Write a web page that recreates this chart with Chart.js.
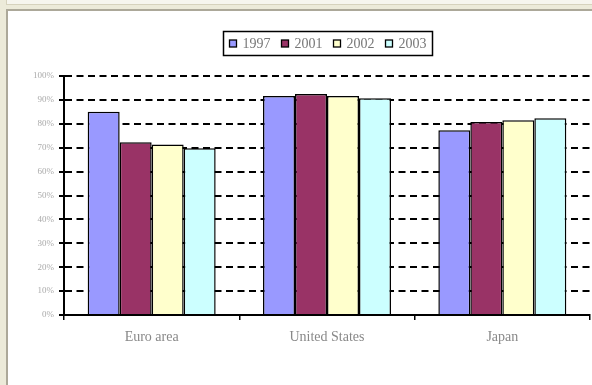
<!DOCTYPE html>
<html>
<head>
<meta charset="utf-8">
<script src="https://cdn.jsdelivr.net/npm/chart.js@4/dist/chart.umd.min.js"></script>
<style>
  html, body { margin: 0; padding: 0; }
  body { width: 592px; height: 385px; overflow: hidden; background: #ecead9; position: relative; }
  #topStrip { position: absolute; left: 6px; top: 0; width: 600px; height: 4px; background: #f6f5ee; border-left: 1px solid #d6d2bd; border-bottom: 1px solid #d6d2bd; }
  #panel { position: absolute; left: 6px; top: 9px; width: 600px; height: 400px; background: #ffffff; border-left: 2px solid #aca899; border-top: 2px solid #aca899; }
  #wrap { position: absolute; left: 0; top: 0; width: 592px; height: 385px; }
</style>
</head>
<body>
<div id="topStrip"></div>
<div id="panel"></div>
<div id="wrap"><canvas id="c" width="592" height="385"></canvas></div>
<script>
const categories = ['Euro area', 'United States', 'Japan'];
const seriesLabels = ['1997', '2001', '2002', '2003'];
const values1997 = [85.0, 91.6, 77.3];
const values2001 = [72.3, 92.5, 80.8];
const values2002 = [71.3, 91.6, 81.5];
const values2003 = [69.8, 90.7, 82.3];
const seriesColors = ['#9999ff', '#993366', '#ffffcc', '#ccffff'];
const yMin = 0, yMax = 100, yStep = 10;

const allValues = [values1997, values2001, values2002, values2003];
const FONT = "'Liberation Serif', 'Times New Roman', serif";

const boxedLegend = {
  id: 'boxedLegend',
  afterDraw(chart) {
    const ctx = chart.ctx;
    const ca = chart.chartArea;
    ctx.save();
    ctx.font = '14px ' + FONT;
    const sq = 7, gapText = 6, gapItem = 11, pad = 6;
    const items = chart.data.datasets.map(d => ({ label: d.label, color: d.backgroundColor, w: ctx.measureText(d.label).width }));
    let content = 0;
    items.forEach((it, i) => { content += sq + gapText + it.w + (i < items.length - 1 ? gapItem : 0); });
    const boxW = content + pad * 2;
    const cx = (ca.left + ca.right) / 2;
    const bx = Math.round(cx - boxW / 2) + 0.5, by = 31.5, bh = 24;
    ctx.lineWidth = 1.5;
    ctx.strokeStyle = '#000';
    ctx.strokeRect(bx, by, boxW, bh);
    let x = bx + pad;
    const midY = by + bh / 2;
    items.forEach(it => {
      ctx.fillStyle = it.color;
      ctx.fillRect(x, midY - sq / 2, sq, sq);
      ctx.lineWidth = 1.3;
      ctx.strokeStyle = '#000';
      ctx.strokeRect(x, midY - sq / 2, sq, sq);
      x += sq + gapText;
      ctx.fillStyle = '#777';
      ctx.textBaseline = 'middle';
      ctx.textAlign = 'left';
      ctx.fillText(it.label, x, midY + 1);
      x += it.w + gapItem;
    });
    ctx.restore();
  }
};

new Chart(document.getElementById('c'), {
  type: 'bar',
  data: {
    labels: categories,
    datasets: seriesLabels.map((lab, i) => ({
      label: lab,
      data: allValues[i],
      backgroundColor: seriesColors[i],
      borderColor: '#000',
      borderWidth: 1.5,
      borderSkipped: 'bottom',
      categoryPercentage: 0.73,
      barPercentage: 1.0
    }))
  },
  options: {
    responsive: false,
    animation: false,
    devicePixelRatio: 1,
    layout: { padding: { top: 76, right: 2, left: 0, bottom: 0 } },
    plugins: {
      legend: { display: false },
      tooltip: { enabled: false },
      title: { display: false }
    },
    scales: {
      x: {
        offset: true,
        afterFit(scale) { scale.height = 70; },
        grid: { offset: true, drawOnChartArea: false, drawTicks: true, tickLength: 5, color: '#000', lineWidth: 1.5 },
        border: { display: true, color: '#000', width: 2 },
        ticks: { color: '#888', padding: 9, font: { family: FONT, size: 14 }, maxRotation: 0 }
      },
      y: {
        min: yMin,
        max: yMax,
        afterFit(scale) { scale.width = 64; },
        grid: { color: '#000', lineWidth: 2, tickLength: 5, drawTicks: true },
        border: { display: true, color: '#000', width: 2, dash: [7, 4.5] },
        ticks: {
          stepSize: yStep,
          color: '#aaa',
          padding: 5,
          font: { family: FONT, size: 9 },
          callback: v => v + '%'
        }
      }
    }
  },
  plugins: [boxedLegend]
});
</script>
</body>
</html>
